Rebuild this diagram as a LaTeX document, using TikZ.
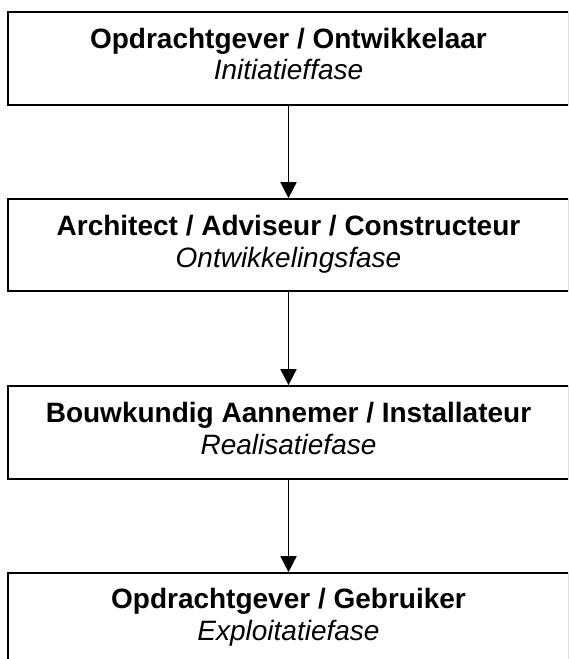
\documentclass[tikz,border=0pt]{standalone}
\usepackage{fontspec}
\setmainfont{Liberation Sans}
\usetikzlibrary{arrows.meta}
\begin{document}
\begin{tikzpicture}[x=1pt,y=-1pt,
  phase/.style={draw=black, line width=1.7pt, minimum width=561pt, inner sep=0pt},
  head/.style={anchor=base, inner sep=0pt, font=\fontsize{28}{31}\selectfont\bfseries},
  sub/.style={anchor=base, inner sep=0pt, font=\fontsize{28}{31}\selectfont\itshape},
  flow/.style={line width=1.7pt, -{Triangle[width=16pt,length=16pt]}}]
  \useasboundingbox (0,0) rectangle (568,659);
  \clip (0,0) rectangle (568,659);

  % phase boxes (right side and last box run off the page)
  \node[phase, minimum height=93pt]  (b1) at (288.5,58.5)  {};
  \node[phase, minimum height=92pt]  (b2) at (288.5,245)   {};
  \node[phase, minimum height=93pt]  (b3) at (288.5,432.5) {};
  \node[phase, minimum height=127pt] (b4) at (288.5,636.5) {};

  % titles and phase names
  \node[head] (h1) at ([yshift=-37pt]b1.north) {Opdrachtgever / Ontwikkelaar};
  \node[sub]  (s1) at ([yshift=-68pt]b1.north) {Initiatieffase};
  \node[head] (h2) at ([yshift=-37pt]b2.north) {Architect / Adviseur / Constructeur};
  \node[sub]  (s2) at ([yshift=-69pt]b2.north) {Ontwikkelingsfase};
  \node[head] (h3) at ([yshift=-37pt]b3.north) {Bouwkundig Aannemer / Installateur};
  \node[sub]  (s3) at ([yshift=-69pt]b3.north) {Realisatiefase};
  \node[head] (h4) at ([yshift=-36pt]b4.north) {Opdrachtgever / Gebruiker};
  \node[sub]  (s4) at ([yshift=-68pt]b4.north) {Exploitatiefase};

  % flow between phases
  \draw[flow] (b1.south) -- (b2.north);
  \draw[flow] (b2.south) -- (b3.north);
  \draw[flow] (b3.south) -- (b4.north);
\end{tikzpicture}
\end{document}
